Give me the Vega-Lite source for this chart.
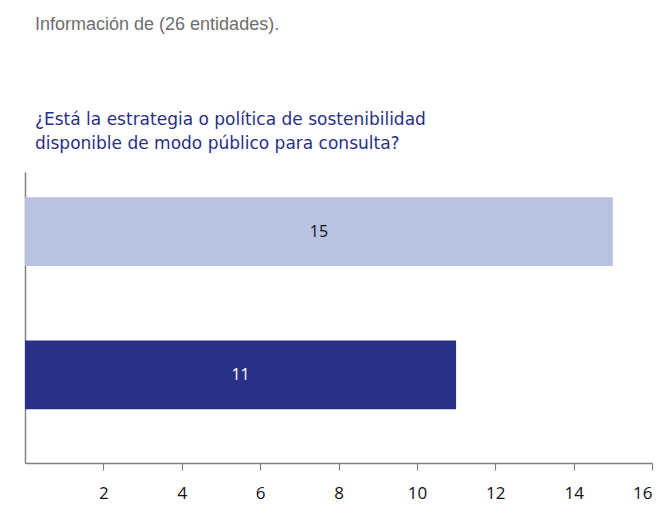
{
  "$schema": "https://vega.github.io/schema/vega-lite/v6.json",
  "autosize": "none",
  "width": 627,
  "height": 291,
  "padding": {"left": 25, "top": 172, "right": 9, "bottom": 45},
  "background": "white",
  "title": {
    "text": "Información de (26 entidades).",
    "subtitle": ["¿Está la estrategia o política de sostenibilidad", "disponible de modo público para consulta?"],
    "anchor": "start",
    "frame": "group",
    "dx": 10,
    "offset": 20,
    "font": "Liberation Sans",
    "fontSize": 18,
    "fontWeight": "normal",
    "color": "#6e6e6e",
    "subtitleFont": "DejaVu Sans",
    "subtitleFontSize": 17,
    "subtitleFontWeight": "normal",
    "subtitleColor": "#2A3087",
    "subtitlePadding": 78,
    "subtitleLineHeight": 24
  },
  "data": {
    "values": [
      {"categoria": "Sí", "valor": 15},
      {"categoria": "No", "valor": 11}
    ]
  },
  "transform": [{"calculate": "datum.valor / 2", "as": "medio"}],
  "encoding": {
    "y": {
      "field": "categoria",
      "type": "nominal",
      "sort": ["Sí", "No"],
      "scale": {"paddingInner": 0.52, "paddingOuter": 0.276, "align": 0.32},
      "axis": {"title": null, "labels": false, "ticks": false, "domain": true, "domainColor": "#808080", "domainWidth": 1.5}
    }
  },
  "layer": [
    {
      "mark": {"type": "bar"},
      "encoding": {
        "x": {
          "field": "valor",
          "type": "quantitative",
          "scale": {"domain": [0, 16], "nice": false},
          "axis": {
            "title": null,
            "values": [2, 4, 6, 8, 10, 12, 14, 16],
            "grid": false,
            "domainColor": "#808080",
            "domainWidth": 1.5,
            "tickColor": "#808080",
            "tickSize": 7,
            "tickWidth": 1.2,
            "labelPadding": 15,
            "labelFont": "Open Sans",
            "labelFontSize": 17,
            "labelColor": "#111111"
          }
        },
        "color": {
          "field": "categoria",
          "type": "nominal",
          "scale": {"domain": ["Sí", "No"], "range": ["#B8C2E2", "#2A3087"]},
          "legend": null
        }
      }
    },
    {
      "mark": {"type": "text", "font": "Open Sans", "fontSize": 16, "align": "center", "baseline": "middle"},
      "encoding": {
        "x": {"field": "medio", "type": "quantitative"},
        "text": {"field": "valor", "type": "quantitative"},
        "color": {
          "field": "categoria",
          "type": "nominal",
          "scale": {"domain": ["Sí", "No"], "range": ["#111111", "#ffffff"]},
          "legend": null
        }
      }
    }
  ],
  "resolve": {"scale": {"color": "independent"}},
  "config": {"view": {"stroke": null}}
}
